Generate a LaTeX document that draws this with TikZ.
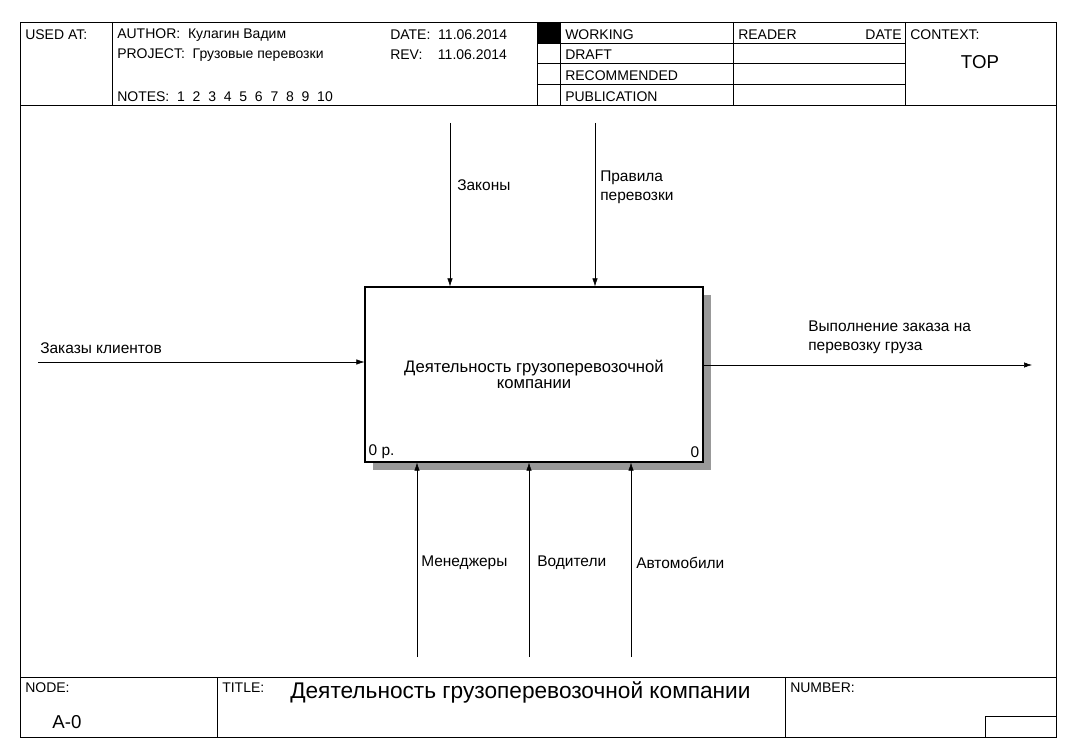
\documentclass[tikz,border=0pt]{standalone}
\usepackage{fontspec}
\setmainfont{Liberation Sans}
\usetikzlibrary{arrows.meta,positioning,calc}
\tikzset{
	frameline/.style={
		thin,
		draw=black,
	},
	activity/.style={
		rectangle,
		draw,
		thick,
		fill=white,
		minimum width=253.5pt,
		minimum height=131.25pt,
		align=center,
	},
	link/.style={
		-{Latex[length=6pt,width=4pt]},
		thin,
	},
	lbl/.style={
		font=\fontsize{11.6}{14}\selectfont,
		anchor=west,
		align=left,
		inner sep=0pt,
	},
	hdr/.style={
		font=\fontsize{10.5}{12}\selectfont,
		anchor=west,
		inner sep=0pt,
	},
}
\begin{document}
\begin{tikzpicture}[x=0.75pt,y=-0.75pt]
	\useasboundingbox (0,0) rectangle (1070,756);
	% header
	\draw[frameline] (20,22) rectangle (1056,737);
	\draw[frameline] (20,105) -- (1056,105);
	\draw[frameline] (20,677) -- (1056,677);
	\foreach \x in {112,537,560,733,905} \draw[frameline] (\x,22) -- (\x,105);
	\foreach \y in {43,63,84} \draw[frameline] (560,\y) -- (905,\y);
	\foreach \y in {43,63,84} \draw[frameline] (537,\y) -- (560,\y);
	\fill (537,22) rectangle (560,43);
	\node[hdr] (usedat) at (25,35) {USED AT:};
	\node[hdr] (author) at (117,35) {AUTHOR:\ \ Кулагин Вадим};
	\node[hdr] (project) at (117,55) {PROJECT:\ \ Грузовые перевозки};
	\node[hdr] (notes) at (117,97) {NOTES:\ \ 1\ \ 2\ \ 3\ \ 4\ \ 5\ \ 6\ \ 7\ \ 8\ \ 9\ \ 10};
	\node[hdr] (date) at (390,35) {DATE:\ \ 11.06.2014};
	\node[hdr] (rev) at (390,55) {REV:\ \ \ \ 11.06.2014};
	\node[hdr] (working) at (565,35) {WORKING};
	\node[hdr] (draft) at (565,55) {DRAFT};
	\node[hdr] (recom) at (565,76) {RECOMMENDED};
	\node[hdr] (publ) at (565,97) {PUBLICATION};
	\node[hdr] (reader) at (738,35) {READER};
	\node[hdr,anchor=east] (rdate) at (902,35) {DATE};
	\node[hdr] (context) at (910,35) {CONTEXT:};
	\node[font=\fontsize{14}{16}\selectfont] (top) at (980,62) {TOP};
	% footer
	\draw[frameline] (217,677) -- (217,737);
	\draw[frameline] (785,677) -- (785,737);
	\draw[frameline] (985,737) -- (985,716) -- (1056,716);
	\node[hdr] (nodelbl) at (25,688) {NODE:};
	\node[font=\fontsize{14}{16}\selectfont] (nodeval) at (67,722) {A-0};
	\node[hdr] (titlelbl) at (222,688) {TITLE:};
	\node[font=\fontsize{17}{19}\selectfont,anchor=west,inner sep=0pt] (title) at (290,692) {Деятельность грузоперевозочной компании};
	\node[hdr] (numlbl) at (790,688) {NUMBER:};
	% activity
	\fill[black!40] (373,295) rectangle (711,470);
	\node[activity] (a0) at (534,374.5) {\fontsize{12.5}{15}\selectfont Деятельность грузоперевозочной\\ \fontsize{12.5}{15}\selectfont компании};
	\node[lbl] (num) at ([xshift=3pt,yshift=8pt]a0.south west) {0 р.};
	\node[lbl,anchor=east] (cost) at ([xshift=-3pt,yshift=8pt]a0.south east) {0};
	% arrows
	\coordinate (zin) at (450,123);
	\coordinate (pin) at (595,123);
	\coordinate (kin) at (38,362);
	\coordinate (vout) at (1032,365);
	\coordinate (min) at (417,657);
	\coordinate (din) at (529,657);
	\coordinate (ain) at (631,657);
	\draw[link] (zin) -- (zin |- a0.north);
	\draw[link] (pin) -- (pin |- a0.north);
	\draw[link] (kin) -- (kin -| a0.west);
	\draw[link] (vout -| a0.east) -- (vout);
	\draw[link] (min) -- (min |- a0.south);
	\draw[link] (din) -- (din |- a0.south);
	\draw[link] (ain) -- (ain |- a0.south);
	\node[lbl] (zakony) at (457,185) {Законы};
	\node[lbl] (pravila) at (600,187) {Правила\\перевозки};
	\node[lbl] (zakazy) at (40,348) {Заказы клиентов};
	\node[lbl] (vypoln) at (808,337) {Выполнение заказа на\\перевозку груза};
	\node[lbl] (menedz) at (421,563) {Менеджеры};
	\node[lbl] (vodit) at (537,563) {Водители};
	\node[lbl] (avto) at (636,563) {Автомобили};
\end{tikzpicture}
\end{document}
